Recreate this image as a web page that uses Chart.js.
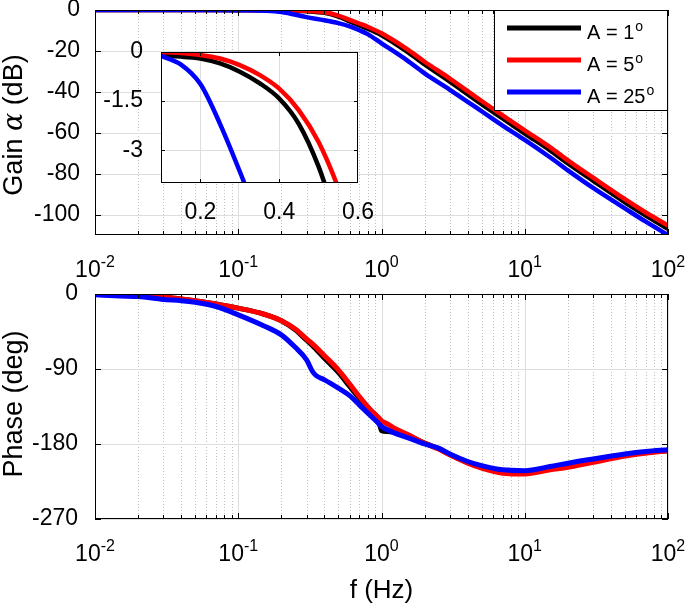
<!DOCTYPE html>
<html>
<head>
<meta charset="utf-8">
<script src="https://cdn.jsdelivr.net/npm/chart.js@4.4.1/dist/chart.umd.min.js"></script>
<style>
  body { margin: 0; background: #fff; }
  #wrap { position: relative; width: 685px; height: 604px; overflow: hidden; }
  canvas { position: absolute; }
</style>
</head>
<body>
<div id="wrap">
  <canvas id="gain" width="685" height="280" style="left:0;top:0"></canvas>
  <canvas id="phase" width="685" height="324" style="left:0;top:280px"></canvas>
  <canvas id="inset" width="280" height="195" style="left:100px;top:40px"></canvas>
</div>
<script>
// ---- data ----
const seriesNames = ["A = 1", "A = 5", "A = 25"];
const seriesColors = ["#000000", "#ff0000", "#0000ff"];

// gain (dB) vs f (Hz)
const freqGain = [0.01, 0.05, 0.1, 0.2, 0.3, 0.4, 0.5, 0.6, 0.7, 0.8, 1, 1.5, 2, 3, 5, 7, 10, 15, 20, 30, 50, 70, 100];
const gainA1 = [0, 0, -0.1, -0.2, -0.62, -1.42, -3.2, -5.6, -7.5, -9.1, -12.3, -20.2, -26.6, -35, -46, -53, -60.4, -68.6, -75, -83.5, -94, -100.5, -107];
const gainA5 = [0, 0, 0, -0.09, -0.4, -1.12, -2.75, -4.8, -6.6, -8.2, -11.4, -19, -25.3, -33.5, -44.5, -51.5, -58.8, -67, -73.5, -82, -92.5, -99, -105.4];
const gainA25 = [0, 0, -0.12, -0.98, -3.5, -5.0, -6.4, -8.0, -9.9, -11.8, -16.3, -24.5, -31, -39, -49.5, -56.5, -63.5, -72, -78.4, -87, -97, -103.5, -110];

// inset (zoom of the gain near the corner)
const insetFreq = [0.1, 0.15, 0.2, 0.25, 0.3, 0.35, 0.4, 0.45, 0.5, 0.55, 0.6];
const insetA1 = [-0.12, -0.14, -0.2, -0.35, -0.6, -0.95, -1.42, -2.2, -3.5, -5.3, null];
const insetA5 = [0, -0.03, -0.09, -0.2, -0.4, -0.7, -1.12, -1.78, -2.75, -4.15, -5.9];
const insetA25 = [-0.12, -0.38, -0.98, -2.2, -3.65, -5.2, null, null, null, null, null];

// phase (deg) vs f (Hz)
const freqPhase = [0.01, 0.015, 0.02, 0.03, 0.04, 0.05, 0.07, 0.1, 0.15, 0.2, 0.25, 0.3, 0.33, 0.35, 0.4, 0.5, 0.6, 0.7, 0.85, 0.95, 1, 1.1, 1.2, 1.5, 2, 2.5, 3, 4, 5, 7, 10, 15, 20, 30, 50, 70, 100];
const phaseA1 = [-0.5, -1, -1.5, -3.5, -6, -8, -12, -17, -24, -32, -43, -55.5, -62, -66.5, -77, -94, -111, -125, -141, -150, -164, -165, -165.5, -169, -179, -185.5, -192.5, -202, -208, -214, -214.5, -210, -206, -200.5, -193.5, -190, -188];
const phaseA5 = [0, -0.5, -1, -3.5, -6, -8, -12, -17, -24, -32, -42, -54, -60, -64, -74, -91, -108, -123, -140, -148, -152, -156, -160, -168, -179, -186, -193, -203, -209, -215, -216, -211, -208, -202, -194.5, -191, -188];
const phaseA25 = [-1, -2.4, -3, -6.5, -8, -10, -15, -25, -38, -49, -64, -79, -93, -98, -103, -113, -122, -133, -147, -155, -159, -163, -166, -172, -180, -185, -192, -201, -206, -211, -212, -207, -203, -198, -192, -189, -187];

// axes ticks
const decadeExp = [-2, -1, 0, 1, 2];
const gainTicks = [0, -20, -40, -60, -80, -100];
const phaseTicks = [0, -90, -180, -270];
const insetXTicks = [0.2, 0.4, 0.6];
const insetYTicks = [0, -1.5, -3];

const FONT = "'Liberation Sans', Arial, sans-serif";
Chart.defaults.font.family = FONT;
Chart.defaults.color = "#000";

const decades = decadeExp.map(e => Math.pow(10, e));
const minors = [];
decades.slice(0, -1).forEach(d => { for (let k = 2; k <= 9; k++) minors.push(d * k); });

function toXY(xs, ys) {
  return xs.map((v, i) => ({ x: v, y: ys[i] })).filter(p => p.y !== null);
}

function makeSets(xs, arrs, width) {
  // black behind, red middle, blue on top
  return arrs.map((arr, i) => ({
    label: seriesNames[i],
    data: toXY(xs, arr),
    borderColor: seriesColors[i],
    borderWidth: width,
    pointRadius: 0,
    cubicInterpolationMode: "monotone",
    order: 3 - i
  }));
}

// MATLAB-like grid, box and inward ticks
const frame = {
  id: "frame",
  beforeDatasetsDraw(chart, args, o) {
    const { ctx, chartArea: a, scales: { x, y } } = chart;
    ctx.save();
    ctx.fillStyle = "#fff";
    ctx.fillRect(a.left, a.top, a.width, a.height);
    ctx.lineWidth = 1;
    ctx.strokeStyle = "#c0c0c0";
    ctx.setLineDash([1, 2]);
    (o.xMinor || []).forEach(v => vline(ctx, x.getPixelForValue(v), a.top, a.bottom));
    ctx.setLineDash([]);
    ctx.strokeStyle = "#dddddd";
    (o.xMajor || []).forEach(v => vline(ctx, x.getPixelForValue(v), a.top, a.bottom));
    (o.yMajor || []).forEach(v => hline(ctx, y.getPixelForValue(v), a.left, a.right));
    ctx.restore();
  },
  afterDatasetsDraw(chart, args, o) {
    const { ctx, chartArea: a, scales: { x, y } } = chart;
    ctx.save();
    ctx.strokeStyle = "#000";
    ctx.lineWidth = 1;
    const L = o.tickLen || 6, l = o.minorLen || 4;
    (o.xMajor || []).forEach(v => {
      const p = x.getPixelForValue(v);
      vline(ctx, p, a.bottom - L, a.bottom); vline(ctx, p, a.top, a.top + L);
    });
    (o.xMinor || []).forEach(v => {
      const p = x.getPixelForValue(v);
      vline(ctx, p, a.bottom - l, a.bottom); vline(ctx, p, a.top, a.top + l);
    });
    (o.yMajor || []).forEach(v => {
      const p = y.getPixelForValue(v);
      hline(ctx, p, a.left, a.left + L); hline(ctx, p, a.right - L, a.right);
    });
    ctx.strokeRect(Math.round(a.left) + 0.5, Math.round(a.top) + 0.5, Math.round(a.width) - 1, Math.round(a.height) - 1);
    ctx.restore();
  },
  afterDraw(chart, args, o) {
    const { ctx, chartArea: a, scales: { x } } = chart;
    ctx.save();
    ctx.fillStyle = "#000";
    if (o.expLabels) {
      // 10^n labels under the log axis
      const base = a.bottom + 42;
      decadeExp.forEach(e => {
        ctx.font = "23px " + FONT;
        const w1 = ctx.measureText("10").width;
        ctx.font = "16px " + FONT;
        const sup = String(e);
        const w2 = ctx.measureText(sup).width;
        const x0 = x.getPixelForValue(Math.pow(10, e)) - (w1 + w2) / 2;
        ctx.textAlign = "left";
        ctx.textBaseline = "alphabetic";
        ctx.font = "23px " + FONT;
        ctx.fillText("10", x0, base);
        ctx.font = "16px " + FONT;
        ctx.fillText(sup, x0 + w1, base - 10);
      });
    }
    if (o.yTitle) drawRotated(ctx, o.yTitle, 22, o.yTitleY);
    if (o.xTitle) {
      ctx.font = "26px " + FONT;
      ctx.textAlign = "center";
      ctx.textBaseline = "alphabetic";
      ctx.fillText(o.xTitle, (a.left + a.right) / 2, o.xTitleY);
    }
    if (o.legend) drawLegend(ctx);
    ctx.restore();
  }
};

function vline(ctx, p, y0, y1) {
  const xx = Math.round(p) + 0.5;
  ctx.beginPath(); ctx.moveTo(xx, y0); ctx.lineTo(xx, y1); ctx.stroke();
}
function hline(ctx, p, x0, x1) {
  const yy = Math.round(p) + 0.5;
  ctx.beginPath(); ctx.moveTo(x0, yy); ctx.lineTo(x1, yy); ctx.stroke();
}

function drawRotated(ctx, parts, cx, cy) {
  ctx.save();
  ctx.translate(cx, cy);
  ctx.rotate(-Math.PI / 2);
  let total = 0;
  parts.forEach(p => { ctx.font = p.font; p.w = ctx.measureText(p.text).width; total += p.w; });
  let x0 = -total / 2;
  ctx.textAlign = "left";
  ctx.textBaseline = "alphabetic";
  ctx.fillStyle = "#000";
  parts.forEach(p => { ctx.font = p.font; ctx.fillText(p.text, x0, 0); x0 += p.w; });
  ctx.restore();
}

function drawLegend(ctx) {
  ctx.fillStyle = "#fff";
  ctx.fillRect(494, 10, 174, 101);
  ctx.strokeStyle = "#000";
  ctx.lineWidth = 1;
  ctx.strokeRect(494.5, 10.5, 173, 100);
  const rows = [28, 60, 92];
  seriesNames.forEach((name, i) => {
    ctx.strokeStyle = seriesColors[i];
    ctx.lineWidth = 5;
    ctx.beginPath(); ctx.moveTo(507, rows[i]); ctx.lineTo(581, rows[i]); ctx.stroke();
    ctx.fillStyle = "#000";
    ctx.textAlign = "left";
    ctx.textBaseline = "alphabetic";
    ctx.font = "20px " + FONT;
    ctx.fillText(name, 587, rows[i] + 11);
    const w = ctx.measureText(name).width;
    ctx.font = "14px " + FONT;
    ctx.fillText("o", 587 + w + 1, rows[i] + 3);
  });
}

function yAxis(ticks, min, max, pad, width) {
  return {
    type: "linear", min: min, max: max,
    afterBuildTicks: s => { s.ticks = ticks.map(v => ({ value: v })); },
    afterFit: s => { s.width = width; s.paddingTop = 0; s.paddingBottom = 0; },
    grid: { display: false }, border: { display: false },
    ticks: { font: { size: 23 }, color: "#000", padding: pad }
  };
}

function logX(height) {
  return {
    type: "logarithmic", min: 0.01, max: 100,
    afterFit: s => { s.height = height; s.paddingLeft = 0; s.paddingRight = 0; },
    grid: { display: false }, border: { display: false },
    ticks: { display: false }
  };
}

const base = {
  responsive: false, animation: false, events: [],
  plugins: { legend: { display: false }, tooltip: { enabled: false } }
};

// ---- gain ----
new Chart(document.getElementById("gain"), {
  type: "line",
  data: { datasets: makeSets(freqGain, [gainA1, gainA5, gainA25], 4.5) },
  options: {
    ...base,
    layout: { padding: { top: 10, right: 17, left: 0, bottom: 0 } },
    scales: { x: logX(45), y: yAxis(gainTicks, -110, 0, 7, 95) },
    plugins: {
      ...base.plugins,
      frame: {
        xMajor: decades, xMinor: minors, yMajor: gainTicks, expLabels: true, legend: true,
        yTitle: [
          { text: "Gain ", font: "27px " + FONT },
          { text: "α", font: "italic 27px 'DejaVu Serif', serif" },
          { text: " (dB)", font: "27px " + FONT }
        ],
        yTitleY: 125
      }
    }
  },
  plugins: [frame]
});

// ---- phase ----
new Chart(document.getElementById("phase"), {
  type: "line",
  data: { datasets: makeSets(freqPhase, [phaseA1, phaseA5, phaseA25], 5) },
  options: {
    ...base,
    layout: { padding: { top: 14, right: 17, left: 0, bottom: 0 } },
    scales: { x: logX(85), y: yAxis(phaseTicks, -270, 0, 9, 95) },
    plugins: {
      ...base.plugins,
      frame: {
        xMajor: decades, xMinor: minors, yMajor: phaseTicks, expLabels: true,
        yTitle: [{ text: "Phase (deg)", font: "27px " + FONT }],
        yTitleY: 124,
        xTitle: "f (Hz)", xTitleY: 318
      }
    }
  },
  plugins: [frame]
});

// ---- inset ----
new Chart(document.getElementById("inset"), {
  type: "line",
  data: { datasets: makeSets(insetFreq, [insetA1, insetA5, insetA25], 4.5) },
  options: {
    ...base,
    layout: { padding: { top: 12, right: 22, left: 0, bottom: 0 } },
    scales: {
      x: {
        type: "linear", min: 0.1, max: 0.6,
        afterBuildTicks: s => { s.ticks = insetXTicks.map(v => ({ value: v })); },
        afterFit: s => { s.height = 52; s.paddingLeft = 0; s.paddingRight = 0; },
        grid: { display: false }, border: { display: false },
        ticks: { font: { size: 23 }, color: "#000", padding: 8, maxRotation: 0 }
      },
      y: yAxis(insetYTicks, -4, 0, 10, 61)
    },
    plugins: {
      ...base.plugins,
      frame: { xMajor: [0.2, 0.4], yMajor: [-1.5, -3], tickLen: 4 }
    }
  },
  plugins: [frame]
});
</script>
</body>
</html>
